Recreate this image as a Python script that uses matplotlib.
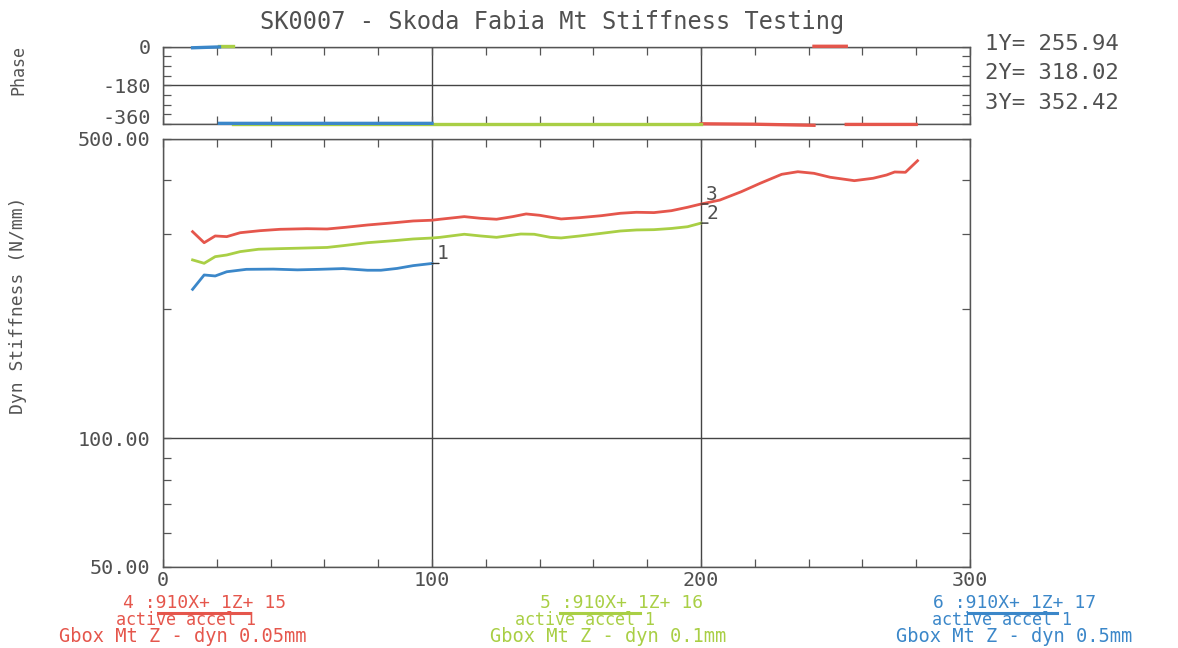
import numpy as np
import matplotlib
matplotlib.use("Agg")
import matplotlib.pyplot as plt
from matplotlib.ticker import FixedLocator, NullFormatter, FixedFormatter

# ---------------- data ----------------
title = "SK0007 - Skoda Fabia Mt Stiffness Testing"

freq_blue = [11, 15.3, 19.4, 23.7, 31, 41, 50, 58, 67, 76, 81, 87, 93, 100]
stiff_blue = [222.7, 240.6, 239.3, 244.8, 248.0, 248.3, 247.3, 248.0, 249.0,
              246.8, 246.8, 249.2, 253.0, 255.94]

freq_green = [11, 15.3, 19.4, 23.7, 28.7, 35.5, 43.5, 53.5, 61, 67, 76, 86, 93,
              100, 103, 112, 118, 124, 133, 138, 144, 148, 155, 163, 170, 176,
              182.5, 189, 195, 200]
stiff_green = [260.9, 256.2, 265.5, 267.9, 272.8, 276.3, 277.2, 278.2, 279.0,
               281.7, 286.2, 289.4, 292.0, 293.5, 294.6, 299.5, 296.8, 294.6,
               299.9, 299.5, 294.6, 293.6, 296.8, 301.0, 304.8, 306.5, 307.0,
               309.0, 311.9, 318.02]

freq_red = [11, 15.3, 19.4, 23.7, 28.7, 36, 43.5, 53.5, 61, 68, 76, 86, 93, 100,
            103, 112, 118, 124, 130, 135, 140, 148, 155, 163, 170, 176, 182.5,
            189, 195, 200, 207, 215, 222, 230, 236, 242, 248, 257, 264, 269,
            272, 276, 280.5]
stiff_red = [303.7, 286.2, 296.8, 295.7, 302.0, 305.3, 307.6, 308.6, 308.1,
             311.0, 314.8, 318.7, 321.7, 323.0, 324.7, 329.3, 326.4, 324.7,
             329.3, 334.1, 331.7, 325.2, 327.5, 331.0, 335.3, 337.1, 336.5,
             340.0, 346.3, 352.42, 360.0, 376.6, 394.0, 413.5, 419.3, 415.7,
             407.0, 399.6, 404.8, 412.0, 418.7, 418.0, 444.8]

phase_freq_blue = [11, 21, 21, 100]
phase_blue = [-5, -1, -357, -357]
phase_freq_green = [21, 26, 26, 200]
phase_green = [1, 1, -358, -358]
phase_freq_red = [200, 220, 242, 242, 254, 254, 280]
phase_red = [-359, -361, -366, 2, 2, -362, -362]

cursor_labels = ["1", "2", "3"]
cursor_x = [100, 200, 200]
cursor_y = [255.94, 318.02, 352.42]
cursor_text = ["1Y= 255.94", "2Y= 318.02", "3Y= 352.42"]

legend_line1 = ["4 :910X+ 1Z+ 15", "5 :910X+ 1Z+ 16", "6 :910X+ 1Z+ 17"]
legend_line2 = ["active accel 1", "active accel 1", "active accel 1"]
legend_line3 = ["Gbox Mt Z - dyn 0.05mm", "Gbox Mt Z - dyn 0.1mm", "Gbox Mt Z - dyn 0.5mm"]

y_ticks = [50, 100, 500]
y_ticklabels = ["50.00", "100.00", "500.00"]
y_minor = [60, 70, 80, 90, 200, 300, 400]
x_ticks = [0, 100, 200, 300]
x_minor = [20, 40, 60, 80, 120, 140, 160, 180, 220, 240, 260, 280]
phase_ticks = [-360, -180, 0]
phase_ticklabels = ["-360", "-180", "0"]
phase_minor = [-315, -270, -225, -135, -90, -45]

# ---------------- style ----------------
RED = "#e5564c"
GREEN = "#a9cf45"
BLUE = "#3b87c9"
TXT = "#505050"
SPINE = "#555555"
FONT = "DejaVu Sans Mono"
W, H = 1178, 648

plt.rcParams['font.family'] = [FONT, 'DejaVu Sans']

fig = plt.figure(figsize=(W / 100, H / 100), dpi=100)
fig.patch.set_facecolor("white")

def fx(px):
    return px / W

def fy(py):
    return 1 - py / H

left, right = 163, 970
ax = fig.add_axes([fx(left), fy(567), fx(right) - fx(left), fy(139) - fy(567)])
axp = fig.add_axes([fx(left), fy(124), fx(right) - fx(left), fy(46.7) - fy(124)])

def split_wrap(f, p):
    f = np.asarray(f, float)
    p = np.asarray(p, float)
    xs, ys = [f[0]], [p[0]]
    for i in range(1, len(f)):
        if abs(p[i] - p[i - 1]) > 180:
            xs.append(np.nan)
            ys.append(np.nan)
        xs.append(f[i])
        ys.append(p[i])
    return xs, ys

# main stiffness panel
for f, s, c in [(freq_red, stiff_red, RED), (freq_green, stiff_green, GREEN),
                (freq_blue, stiff_blue, BLUE)]:
    ax.plot(f, s, color=c, lw=2.0, solid_joinstyle="round", zorder=3)

ax.set_yscale("log")
ax.set_xlim(0, 300)
ax.set_ylim(50, 500)
ax.yaxis.set_major_locator(FixedLocator(y_ticks))
ax.yaxis.set_major_formatter(FixedFormatter(y_ticklabels))
ax.yaxis.set_minor_locator(FixedLocator(y_minor))
ax.yaxis.set_minor_formatter(NullFormatter())
ax.xaxis.set_major_locator(FixedLocator(x_ticks))
ax.xaxis.set_minor_locator(FixedLocator(x_minor))
ax.tick_params(which="both", direction="in", top=True, right=True,
               length=6, width=0.9, color=SPINE)
ax.tick_params(axis="y", which="major", labelsize=14.5, labelcolor=TXT, pad=9)
ax.tick_params(axis="x", which="major", labelsize=14.5, labelcolor=TXT, pad=3)
ax.grid(True, which="major", color="#444444", lw=1.0, zorder=1)
for sp in ax.spines.values():
    sp.set_color(SPINE)
    sp.set_linewidth(1.0)

for lab, x, y in zip(cursor_labels, cursor_x, cursor_y):
    ax.annotate("", xy=(x, y), xytext=(7, 0), textcoords="offset pixels",
                arrowprops=dict(arrowstyle="-", color="#333333", lw=1.0,
                                shrinkA=0, shrinkB=0))
    ax.annotate(lab, xy=(x, y), xytext=(5, 0), textcoords="offset pixels",
                ha="left", va="bottom", fontsize=14, color=TXT)

# phase panel
for f, p, c in [(phase_freq_red, phase_red, RED), (phase_freq_green, phase_green, GREEN),
                (phase_freq_blue, phase_blue, BLUE)]:
    xs, ys = split_wrap(f, p)
    axp.plot(xs, ys, color=c, lw=2.4, clip_on=False, zorder=3)

axp.set_xlim(0, 300)
axp.set_ylim(-360, 0)
axp.xaxis.set_major_locator(FixedLocator(x_ticks))
axp.xaxis.set_minor_locator(FixedLocator(x_minor))
axp.yaxis.set_major_locator(FixedLocator(phase_ticks))
axp.yaxis.set_major_formatter(FixedFormatter(phase_ticklabels))
axp.yaxis.set_minor_locator(FixedLocator(phase_minor))
axp.tick_params(which="both", direction="in", top=True, right=True,
                length=6, width=0.9, color=SPINE)
axp.tick_params(axis="x", which="both", labelbottom=False)
axp.tick_params(axis="y", which="major", labelsize=14.5, labelcolor=TXT, pad=9)
axp.grid(True, which="major", color="#444444", lw=1.0, zorder=1)
for sp in axp.spines.values():
    sp.set_color(SPINE)
    sp.set_linewidth(1.0)

# lift the bottom phase label so it sits above the stiffness top label
fig.canvas.draw()
for lbl in axp.get_yticklabels():
    if lbl.get_text() == "-360":
        lbl.set_verticalalignment("baseline")

# axis labels
fig.text(fx(18), fy(70), "Phase", rotation=90, ha="center", va="center",
         fontsize=12, color="#555555")
fig.text(fx(18), fy(305), "Dyn Stiffness (N/mm)", rotation=90, ha="center",
         va="center", fontsize=13, color="#555555")

# title
fig.text(fx(552), fy(22), title, ha="center", va="center", fontsize=17, color=TXT)

# cursor values
for t, py in zip(cursor_text, [44, 73, 103]):
    fig.text(fx(985), fy(py), t, ha="left", va="center", fontsize=16, color=TXT)

# bottom legend blocks
colors = [RED, GREEN, BLUE]
row1_x = [205, 622, 1015]
row2_x = [186, 585, 1002]
row3_x = [183, 608, 1014]
under = [(158, 250), (560, 640), (968, 1057)]
for i in range(3):
    c = colors[i]
    fig.text(fx(row1_x[i]), fy(603), legend_line1[i], ha="center", va="center",
             fontsize=13, color=c)
    fig.text(fx(row2_x[i]), fy(620), legend_line2[i], ha="center", va="center",
             fontsize=12, color=c)
    fig.text(fx(row3_x[i]), fy(637), legend_line3[i], ha="center", va="center",
             fontsize=13.5, color=c)
    fig.add_artist(plt.Line2D([fx(under[i][0]), fx(under[i][1])], [fy(613), fy(613)],
                              transform=fig.transFigure, color=c, lw=2.2))

fig.savefig("out.png", dpi=100, facecolor="white")
